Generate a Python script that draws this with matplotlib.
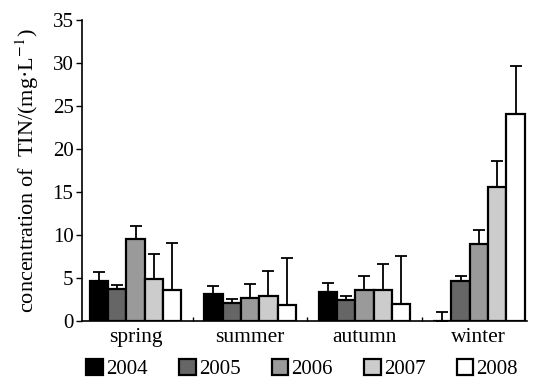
import matplotlib
matplotlib.use("Agg")
import matplotlib.pyplot as plt
import numpy as np

seasons = ["spring", "summer", "autumn", "winter"]
years = ["2004", "2005", "2006", "2007", "2008"]
means = {
    "2004": [4.7, 3.1, 3.4, 0.0],
    "2005": [3.7, 2.1, 2.4, 4.65],
    "2006": [9.5, 2.7, 3.65, 9.0],
    "2007": [4.9, 2.95, 3.65, 15.6],
    "2008": [3.6, 1.8, 2.0, 24.1],
}
errs = {
    "2004": [1.0, 0.95, 1.0, 1.0],
    "2005": [0.45, 0.5, 0.45, 0.55],
    "2006": [1.5, 1.55, 1.6, 1.6],
    "2007": [2.9, 2.9, 2.95, 2.95],
    "2008": [5.5, 5.5, 5.5, 5.6],
}
colors = ["#000000", "#666666", "#9a9a9a", "#cccccc", "#ffffff"]

plt.rcParams["font.family"] = ["Liberation Serif", "DejaVu Serif"]
plt.rcParams["mathtext.fontset"] = "stix"
fig = plt.figure(figsize=(5.35, 3.78), dpi=100)
ax = fig.add_axes([0.153, 0.151, 0.832, 0.796])

x = np.arange(len(seasons))
w = 0.16
for i, y in enumerate(years):
    pos = x + (i - 2) * w
    ax.bar(pos, means[y], width=w, color=colors[i], edgecolor="black",
           linewidth=1.6, label=y, zorder=3)
    ax.errorbar(pos, means[y], yerr=[np.zeros(4), errs[y]], fmt="none",
                ecolor="black", elinewidth=1.3, capsize=4, capthick=1.3, zorder=2)

ax.set_ylim(0, 35)
ax.set_yticks(range(0, 36, 5))
ax.set_xlim(-0.47, 3.42)
ax.set_xticks([0.5, 1.5, 2.5], minor=True)
ax.set_xticks(x)
ax.set_xticklabels(seasons, fontsize=15.5)
ax.tick_params(axis="x", which="major", length=0, pad=5)
ax.tick_params(axis="x", which="minor", direction="in", length=3, width=1)
ax.tick_params(axis="y", direction="out", length=4, width=1, labelsize=15, pad=2)
for s in ["top", "right"]:
    ax.spines[s].set_visible(False)
for s in ["left", "bottom"]:
    ax.spines[s].set_linewidth(1.2)
ax.set_ylabel("concentration of  TIN/(mg·L$^{-1}$)", fontsize=16, labelpad=8)

leg = ax.legend(loc="upper center", bbox_to_anchor=(0.495, -0.12), ncol=5,
                frameon=False, fontsize=15, handlelength=0.8, handleheight=0.8,
                handletextpad=0.15, columnspacing=1.5, borderaxespad=0,
                borderpad=0.1)

fig.savefig("out.png", dpi=100)
